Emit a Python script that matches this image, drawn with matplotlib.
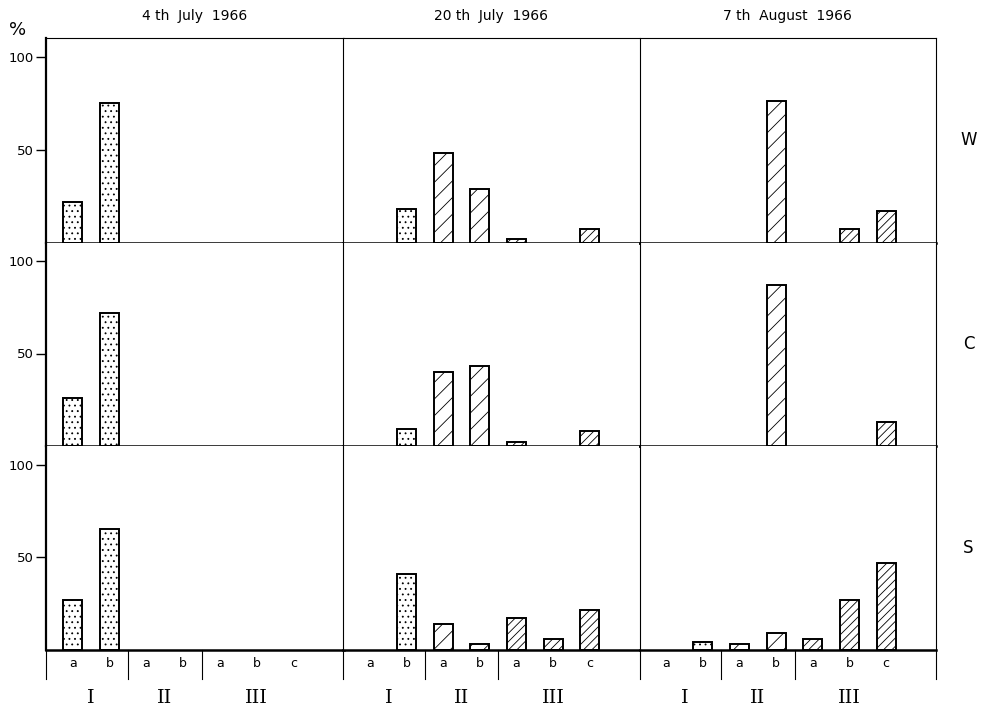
import matplotlib
matplotlib.use("Agg")
import matplotlib.pyplot as plt

plt.rcParams['font.family'] = ['DejaVu Sans']
plt.rcParams['hatch.linewidth'] = 0.6

dates = ['4 th  July  1966', '20 th  July  1966', '7 th  August  1966']
sites = ['W', 'C', 'S']
categories = ['a', 'b', 'a', 'b', 'a', 'b', 'c']
groups = ['I', 'II', 'III']
group_of_bar = [0, 0, 1, 1, 2, 2, 2]

# values in % for (Ia, Ib, IIa, IIb, IIIa, IIIb, IIIc), one list per date
w_values = [[22, 75, 0, 0, 0, 0, 0],
            [0, 18, 48, 29, 2, 0, 7],
            [0, 0, 0, 76, 0, 7, 17]]
c_values = [[26, 72, 0, 0, 0, 0, 0],
            [0, 9, 40, 43, 2, 0, 8],
            [0, 0, 0, 87, 0, 0, 13]]
s_values = [[27, 65, 0, 0, 0, 0, 0],
            [0, 41, 14, 3.5, 17.5, 6, 21.5],
            [0, 4.5, 3.5, 9, 6, 27, 47]]
site_values = [w_values, c_values, s_values]

hatches = ['...', '//', '////']

W, H = 987, 706
fig = plt.figure(figsize=(W / 100, H / 100), dpi=100)


def px_rect(x0, y0, x1, y1):
    return [x0 / W, 1 - y1 / H, (x1 - x0) / W, (y1 - y0) / H]


col_edges = [46, 343.5, 639.5, 936]
row_edges = [38, 242.5, 446, 650]
xlim = (-0.73, 7.36)
positions = list(range(len(categories)))

for r, site in enumerate(sites):
    for c, date in enumerate(dates):
        ax = fig.add_axes(px_rect(col_edges[c], row_edges[r],
                                  col_edges[c + 1], row_edges[r + 1]))
        vals = site_values[r][c]
        for x, v, g in zip(positions, vals, group_of_bar):
            if v <= 0:
                continue
            ax.bar(x, v, width=0.52, facecolor='white', edgecolor='black',
                   linewidth=1.4, hatch=hatches[g], zorder=2)
        ax.set_xlim(*xlim)
        ax.set_ylim(0, 110)
        ax.set_xticks([])

        ax.spines['bottom'].set_linewidth(1.8)
        ax.spines['left'].set_linewidth(1.6 if c == 0 else 0.8)
        ax.spines['top'].set_linewidth(0.8)
        ax.spines['top'].set_visible(r == 0)
        ax.spines['right'].set_linewidth(0.8)
        ax.spines['right'].set_visible(c == len(dates) - 1)

        if c == 0:
            ax.set_yticks([50, 100])
            ax.set_yticklabels(['50', '100'])
            ax.tick_params(axis='y', direction='out', length=7, width=1,
                           labelsize=9.5, pad=2)
        else:
            ax.set_yticks([])

        if r == 0:
            ax.set_title(date, fontsize=10, pad=13)

        if c == len(dates) - 1:
            ax.text(1.11, 0.5, site, transform=ax.transAxes, fontsize=12,
                    ha='center', va='center')

        if r == len(sites) - 1:
            tr = ax.get_xaxis_transform()
            xs = [xlim[0], 1.5, 3.5]
            if c == len(dates) - 1:
                xs.append(xlim[1])
            for xv in xs:
                ax.plot([xv, xv], [0, -0.14], color='black', lw=0.8,
                        transform=tr, clip_on=False)
            for x, lab in zip(positions, categories):
                ax.text(x, -0.064, lab, transform=tr, fontsize=9,
                        ha='center', va='center')
            for xc, g in zip([0.5, 2.5, 5], groups):
                ax.text(xc, -0.235, g, transform=tr, fontsize=14,
                        family='DejaVu Serif', ha='center', va='center')

fig.text(18 / W, 1 - 30 / H, '%', fontsize=13, ha='center', va='center')

fig.savefig('out.png', dpi=100)
